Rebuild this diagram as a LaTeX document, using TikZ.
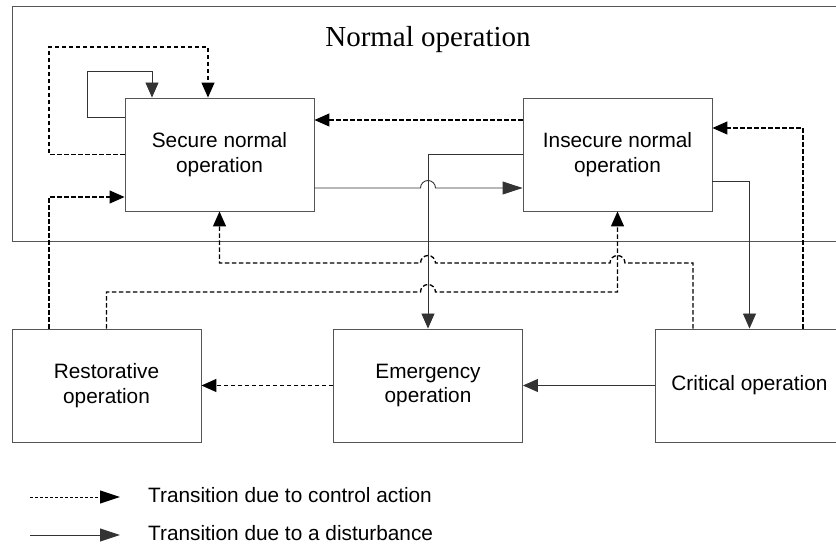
\documentclass[tikz,border=0pt]{standalone}
\usepackage{fontspec}
\setmainfont{Liberation Sans}
\newfontfamily\titlefont{Liberation Serif}
\usetikzlibrary{arrows.meta}
\definecolor{boxgrey}{HTML}{555555}
\definecolor{linegrey}{HTML}{333333}
\tikzset{
  state/.style={draw=boxgrey, line width=0.9pt, minimum width=189pt, minimum height=113pt,
                inner sep=0pt, align=center, font=\fontsize{20.8}{24.5}\selectfont},
  region/.style={draw=boxgrey, line width=0.9pt, minimum width=858pt, minimum height=235pt, inner sep=0pt},
  disturb/.style={-{Triangle[length=15pt,width=13pt]}, line width=0.9pt, draw=linegrey},
  control/.style={-{Triangle[length=15pt,width=13pt]}, line width=1.3pt, dash pattern=on 4.5pt off 2.5pt},
  longtip/.style={-{Triangle[length=20pt,width=13pt]}},
  legtext/.style={anchor=west, inner sep=0pt, font=\fontsize{20.8}{24.5}\selectfont},
}
\begin{document}
\begin{tikzpicture}[x=1pt, y=-1pt]
\useasboundingbox (0,0) rectangle (836,545);
\node[region] (normal) at (441,123.5) {};
\node[font=\titlefont\fontsize{29}{32}\selectfont] (title) at (428,40) {Normal operation};

\node[state] (sec) at (219.5,154.5) {Secure normal\\operation};
\node[state] (ins) at (617.5,154.5) {Insecure normal\\operation};
\node[state] (rest) at (106.5,385.5) {Restorative\\operation};
\node[state] (emer) at (428,385.5) {Emergency\\operation};
\node[state] (crit) at (749.5,385.5) {Critical operation};

\draw[disturb] (sec.west |- 0,117) -| (87,71) -| (sec.north -| 152,0);
\draw[control] (sec.west) -| (49,47) -| (sec.north -| 208,0);
\draw[control] (rest.north -| 49,0) |- (sec.west |- 0,197);
\draw[control] (rest.north) |- (420.5,292) arc[start angle=180, end angle=0, radius=7.5pt] -| (ins.south);
\draw[control] (crit.north -| 693,0) |- (625,263) arc[start angle=0, end angle=180, radius=7.5pt]
  -- (435.5,263) arc[start angle=0, end angle=180, radius=7.5pt] -| (sec.south);
\draw[disturb, longtip] (sec.east |- 0,188) -- (420.5,188) arc[start angle=180, end angle=0, radius=7.5pt] -- (ins.west |- 0,188);
\draw[disturb] (ins.west) -| (emer.north);
\draw[disturb] (ins.east |- 0,181) -| (crit.north);
\draw[control] (crit.north -| 803,0) |- (ins.east |- 0,128);
\draw[control] (ins.west |- 0,120) -- (sec.east |- 0,120);
\draw[control] (emer.west) -- (rest.east);
\draw[disturb] (crit.west) -- (emer.east);

\coordinate (ca) at (30,497);
\coordinate (cb) at (120,497);
\coordinate (da) at (30,535);
\coordinate (db) at (120,535);
\draw[control, longtip, dash pattern=on 3pt off 2pt, line width=1pt] (ca) -- (cb);
\draw[disturb, longtip] (da) -- (db);
\node[legtext] (lca) at (148,495) {Transition due to control action};
\node[legtext] (lda) at (148,533) {Transition due to a disturbance};
\end{tikzpicture}
\end{document}
